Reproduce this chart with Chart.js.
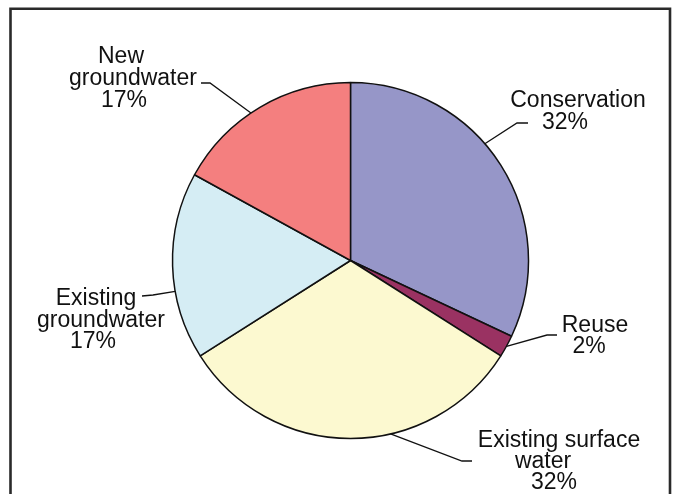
<!DOCTYPE html>
<html>
<head>
<meta charset="utf-8">
<title>Water supply sources</title>
<script src="https://cdn.jsdelivr.net/npm/chart.js@4.4.1/dist/chart.umd.min.js"></script>
<style>
  html, body { margin: 0; padding: 0; background: #ffffff; }
  #wrap { width: 673px; height: 494px; }
</style>
</head>
<body>
<div id="wrap"><canvas id="pie" width="673" height="494"></canvas></div>
<script>
// Shares of future water supply by source (percent)
const categories = ['Conservation', 'Reuse', 'Existing surface water', 'Existing groundwater', 'New groundwater'];
const shares = [32, 2, 32, 17, 17];
const labelLines = [['Conservation'], ['Reuse'], ['Existing surface', 'water'], ['Existing', 'groundwater'], ['New', 'groundwater']];
const sliceColors = ['#9696c8', '#9a3262', '#fcf9d0', '#d5edf4', '#f47f7f'];

// Callout placement: where the leader meets the rim (degrees clockwise from 12 o'clock),
// the elbow and end of the leader, and the centre/baseline of each text line.
const callouts = [
  { rimDeg: 49,  elbow: [517, 123], end: [528, 123], text: [[578, 107], [565, 129]] },
  { rimDeg: null, elbow: [547, 335], end: [557, 335], text: [[595, 332], [589, 353]] },
  { rimDeg: 167, elbow: [462, 461], end: [472, 461], text: [[559, 447], [543, 468], [554, 489]] },
  { rimDeg: 260, elbow: [153, 295], end: [142, 296], text: [[96, 305], [101, 327], [93, 348]] },
  { rimDeg: 326, elbow: [210, 83],  end: [201, 83],  text: [[121, 63], [133, 85], [124, 107]] }
];

const calloutPlugin = {
  id: 'callouts',
  afterDatasetsDraw(chart) {
    const ctx = chart.ctx;
    const arcs = chart.getDatasetMeta(0).data;
    ctx.save();
    ctx.strokeStyle = '#111111';
    ctx.lineWidth = 1.3;
    ctx.fillStyle = '#111111';
    ctx.font = '23px "Liberation Sans", Arial, sans-serif';
    ctx.textAlign = 'center';
    ctx.textBaseline = 'alphabetic';
    arcs.forEach((arc, i) => {
      const c = callouts[i];
      const { x, y, outerRadius, startAngle, endAngle } = arc.getProps(['x', 'y', 'outerRadius', 'startAngle', 'endAngle'], true);
      let a = c.rimDeg === null ? (startAngle + endAngle) / 2 : (c.rimDeg - 90) * Math.PI / 180;
      const eps = 0.01;
      a = Math.min(Math.max(a, startAngle + eps), endAngle - eps);
      const px = x + outerRadius * Math.cos(a);
      const py = y + outerRadius * Math.sin(a);
      ctx.beginPath();
      ctx.moveTo(px, py);
      ctx.lineTo(c.elbow[0], c.elbow[1]);
      ctx.lineTo(c.end[0], c.end[1]);
      ctx.stroke();
      const lines = labelLines[i].concat([shares[i] + '%']);
      lines.forEach((t, k) => {
        ctx.fillText(t, c.text[k][0], c.text[k][1]);
      });
    });
    ctx.restore();
  },
  afterDraw(chart) {
    // open-bottomed frame around the figure
    const ctx = chart.ctx;
    ctx.save();
    ctx.strokeStyle = '#2a2a2a';
    ctx.lineWidth = 2.6;
    ctx.beginPath();
    ctx.moveTo(10.5, 520);
    ctx.lineTo(10.5, 8.8);
    ctx.lineTo(670, 8.8);
    ctx.lineTo(670, 520);
    ctx.stroke();
    ctx.restore();
  }
};

new Chart(document.getElementById('pie'), {
  type: 'pie',
  data: {
    labels: categories,
    datasets: [{
      data: shares,
      backgroundColor: sliceColors,
      borderColor: '#111111',
      borderWidth: 1.5,
      borderAlign: 'center'
    }]
  },
  options: {
    responsive: false,
    animation: false,
    radius: 178,
    layout: { padding: { left: 28, right: 0, top: 27, bottom: 0 } },
    plugins: {
      legend: { display: false },
      tooltip: { enabled: false }
    }
  },
  plugins: [calloutPlugin]
});
</script>
</body>
</html>
